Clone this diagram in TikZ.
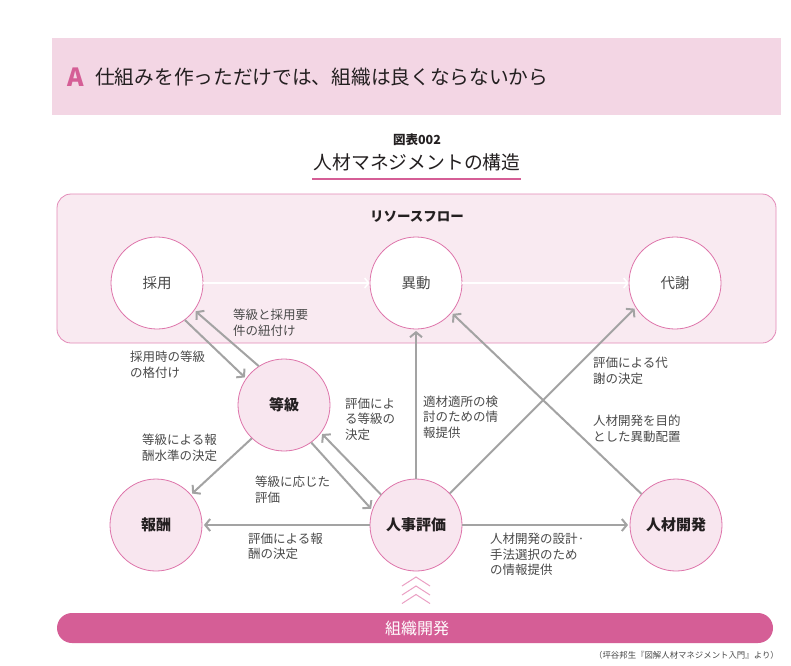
\documentclass[tikz,border=0pt]{standalone}
\usepackage{fontspec}
\setmainfont{Noto Sans CJK JP}
\usetikzlibrary{arrows.meta}
\definecolor{headpink}{HTML}{F3D6E4}
\definecolor{accent}{HTML}{D55E96}
\definecolor{boxfill}{HTML}{F9EAF1}
\definecolor{boxborder}{HTML}{E38AB8}
\definecolor{circborder}{HTML}{DE74AA}
\definecolor{lowfill}{HTML}{F8E6EF}
\definecolor{arrgray}{HTML}{A3A3A3}
\definecolor{labgray}{HTML}{4A4A4A}
\definecolor{textdark}{HTML}{231F20}
\definecolor{chev}{HTML}{EBA0C4}
\tikzset{
  topc/.style={circle, minimum size=92pt, draw=circborder, fill=white, line width=0.8pt, inner sep=0pt,
    font=\fontsize{14.5}{15}\selectfont, text=labgray},
  lowc/.style={topc, fill=lowfill, font=\fontsize{15}{15}\bfseries, text=textdark},
  garr/.style={draw=arrgray, line width=2pt, -{Straight Barb[length=5pt,width=12pt]}, shorten >=1.5pt},
  warr/.style={draw=white, line width=1.5pt, -{Straight Barb[length=4pt,width=10pt]}},
  lbl/.style={font=\fontsize{12.5}{15.5}\selectfont, text=labgray, align=left, inner sep=0pt, anchor=west}
}
\begin{document}
\begin{tikzpicture}[x=1pt,y=-1pt]
\useasboundingbox (0,0) rectangle (791,665);
\fill[white] (0,0) rectangle (791,665);
% header
\fill[headpink] (52,38) rectangle (781,115);
\node[anchor=west, inner sep=0pt, text=accent, font=\fontsize{25}{25}\bfseries] (A) at (67,77) {A};
\node[anchor=west, inner sep=0pt, text=textdark, font=\fontsize{19.7}{20}\selectfont] (head) at (95,77) {仕組みを作っただけでは、組織は良くならないから};
% title
\node[inner sep=0pt, text=textdark, font=\fontsize{12.5}{13}\bfseries] (fig) at (417,140) {図表002};
\node[inner sep=0pt, text=textdark, font=\fontsize{18.8}{19}\selectfont] (title) at (417,162) {人材マネジメントの構造};
\draw[accent, line width=2.6pt] (312,179) -- (521,179);
% resource flow box
\draw[boxborder, fill=boxfill, line width=0.8pt, rounded corners=14pt] (57,194) rectangle (776,343);
\node[inner sep=0pt, text=textdark, font=\fontsize{13.5}{14}\bfseries] (rf) at (417,217) {リソースフロー};
% circles
\node[topc] (saiyo) at (157,283) {採用};
\node[topc] (idou) at (416,283) {異動};
\node[topc] (taisha) at (675,283) {代謝};
\node[lowc] (tokyu) at (284,405) {等級};
\node[lowc] (hoshu) at (156,525) {報酬};
\node[lowc] (hyoka) at (416,525) {人事評価};
\node[lowc] (kaihatsu) at (676,525) {人材開発};
% white flow arrows
\draw[warr] (saiyo) -- (idou);
\draw[warr] (idou) -- (taisha);
% gray arrows
\draw[garr] (saiyo.-53) -- (tokyu.145);
\draw[garr] (tokyu.123) -- (saiyo.-36);
\draw[garr] (tokyu.-134) -- (hoshu.41);
\draw[garr] (tokyu.-54.5) -- (hyoka.161);
\draw[garr] (hyoka.139) -- (tokyu.-37);
\draw[garr] (hyoka) -- (hoshu);
\draw[garr] (hyoka) -- (kaihatsu);
\draw[garr] (hyoka) -- (idou);
\draw[garr] (hyoka.43) -- (taisha.-148);
\draw[garr] (kaihatsu.138) -- (idou.-40);
% labels
\node[lbl] (l1) at (130,364.5) {採用時の等級\\の格付け};
\node[lbl] (l2) at (233,322.5) {等級と採用要\\件の紐付け};
\node[lbl] (l3) at (142,447.5) {等級による報\\酬水準の決定};
\node[lbl] (l4) at (345,419) {評価によ\\る等級の\\決定};
\node[lbl] (l5) at (423,417) {適材適所の検\\討のための情\\報提供};
\node[lbl] (l6) at (593,371) {評価による代\\謝の決定};
\node[lbl] (l7) at (593,428.5) {人材開発を目的\\とした異動配置};
\node[lbl] (l8) at (255,489.5) {等級に応じた\\評価};
\node[lbl] (l9) at (248,546.5) {評価による報\\酬の決定};
\node[lbl] (l10) at (490,554.5) {人材開発の設計·\\手法選択のため\\の情報提供};
% chevrons
\foreach \py in {577,586,594.5}{
  \draw[chev, line width=1pt] (402,\py+9) -- (416,\py) -- (430,\py+9);
}
% bottom bar
\fill[accent, rounded corners=15pt] (57,613) rectangle (773,643);
\node[inner sep=0pt, text=white, font=\fontsize{16}{16}\selectfont] (od) at (417,628) {組織開発};
% caption
\node[anchor=east, inner sep=0pt, text=labgray, font=\fontsize{8.4}{8.4}\selectfont] (cap) at (779,655) {（坪谷邦生『図解人材マネジメント入門』より）};
\end{tikzpicture}
\end{document}
